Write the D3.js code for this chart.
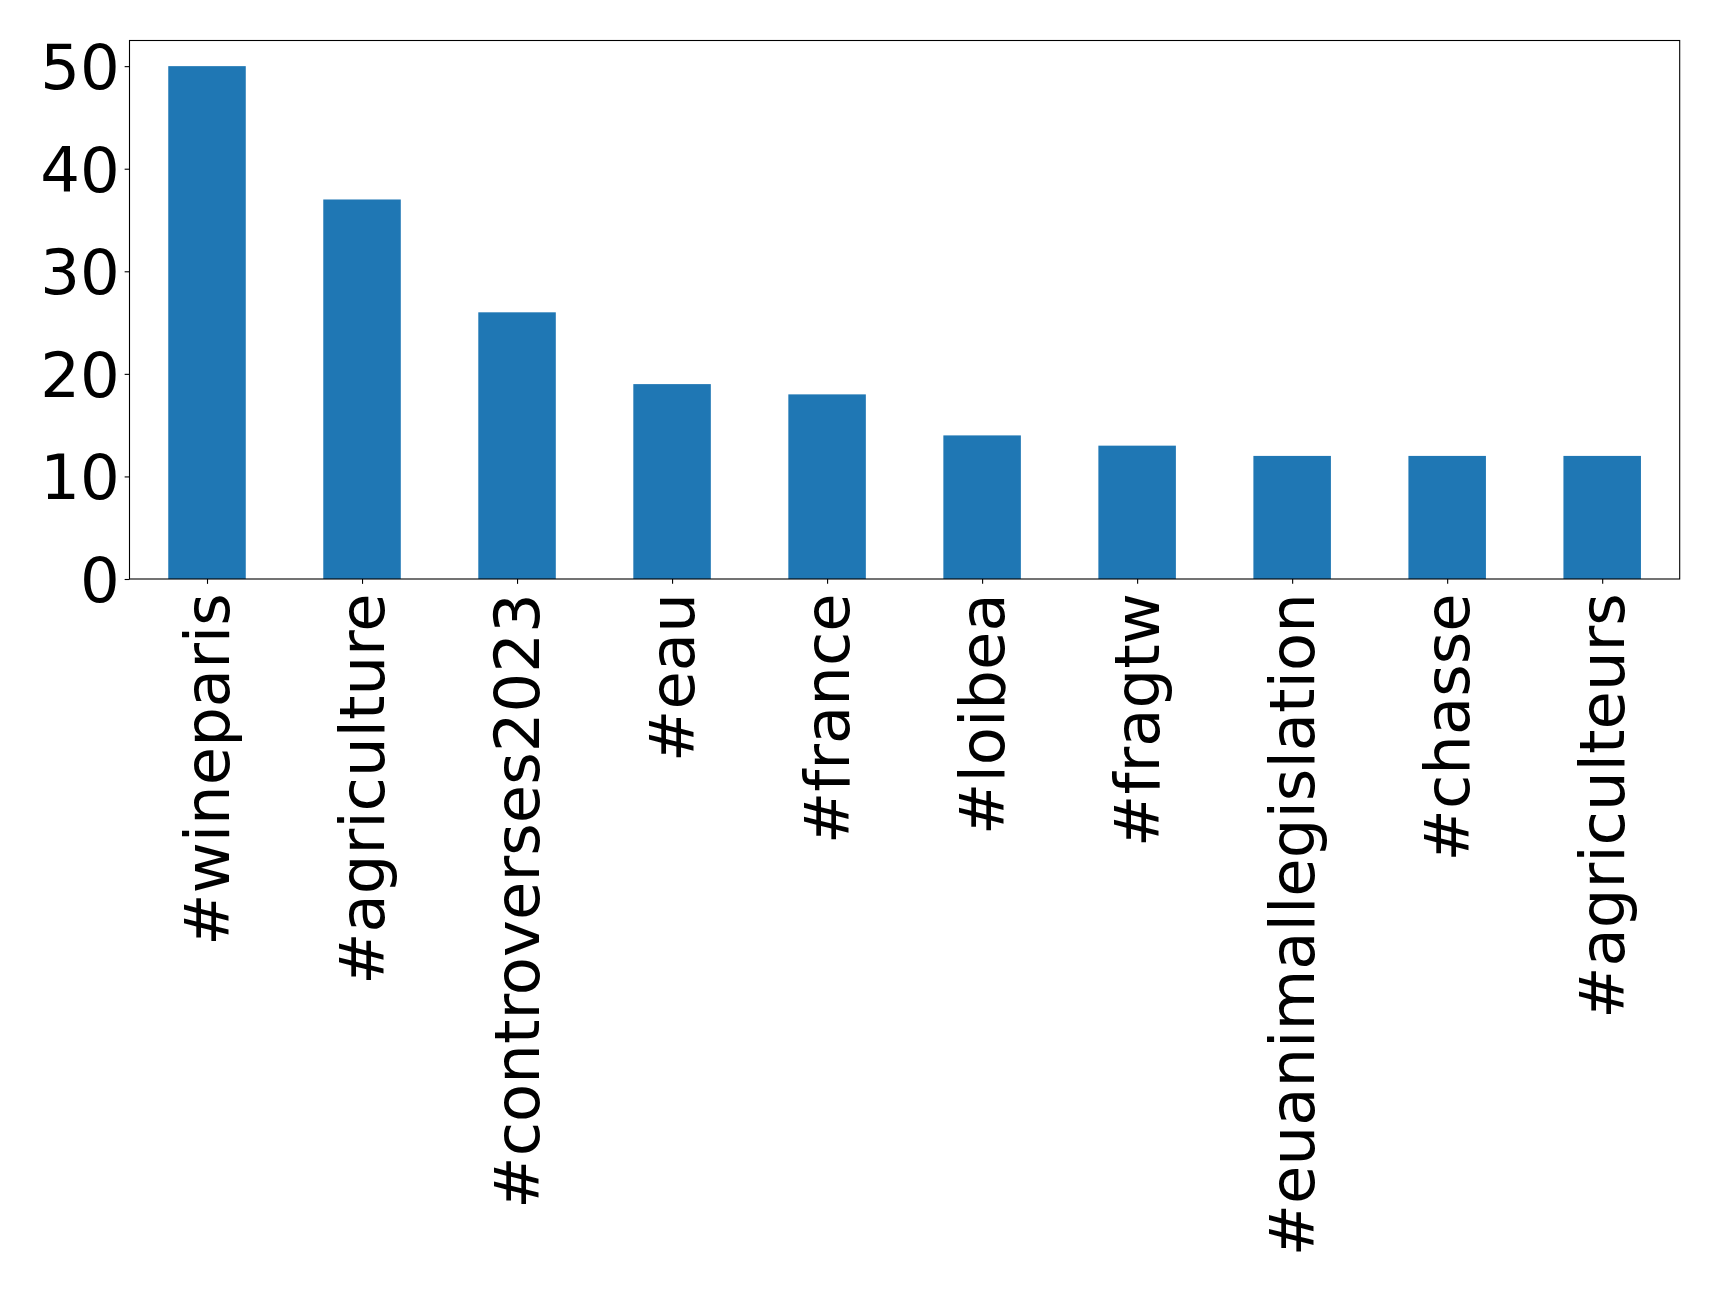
<!DOCTYPE html>
<html>
<head>
<meta charset="utf-8">
<script src="https://cdn.jsdelivr.net/npm/d3@7"></script>
<style>
  html, body { margin: 0; padding: 0; background: #fff; }
  svg { display: block; }
  text { font-family: "DejaVu Sans", sans-serif; fill: #000; }
</style>
</head>
<body>
<svg id="chart" width="1719" height="1291"></svg>
<script>
const categories = ["#wineparis", "#agriculture", "#controverses2023", "#eau", "#france", "#loibea", "#fragtw", "#euanimallegislation", "#chasse", "#agriculteurs"];
const counts = [50, 37, 26, 19, 18, 14, 13, 12, 12, 12];
const yTicks = [0, 10, 20, 30, 40, 50];

const W = 1719, H = 1291;
const margin = { left: 129.5, top: 40.5, right: W - 1679.7, bottom: H - 579 };
const plotW = W - margin.left - margin.right;
const plotH = H - margin.top - margin.bottom;
const fontSize = 62.5;
const tickLen = 4.86, pad = 4.86;

const svg = d3.select("#chart");
const g = svg.append("g").attr("transform", `translate(${margin.left},${margin.top})`);

// matplotlib-style: xlim -0.5..n-0.5, bar width 0.5
const x = d3.scaleLinear().domain([-0.5, categories.length - 0.5]).range([0, plotW]);
const y = d3.scaleLinear().domain([0, 52.5]).range([plotH, 0]);
const barW = x(0.25) - x(-0.25);

g.selectAll("rect.bar").data(counts).join("rect")
  .attr("class", "bar")
  .attr("x", (d, i) => x(i) - barW / 2)
  .attr("y", d => y(d))
  .attr("width", barW)
  .attr("height", d => y(0) - y(d))
  .attr("fill", "#1f77b4");

// Y axis
const yAxis = d3.axisLeft(y).tickValues(yTicks).tickSize(tickLen).tickPadding(pad).tickFormat(d3.format("d"));
const yg = g.append("g").call(yAxis);
yg.select(".domain").remove();
yg.selectAll(".tick line").attr("stroke", "#000").attr("stroke-width", 1.1);
yg.selectAll(".tick text").attr("font-size", fontSize).attr("font-family", "DejaVu Sans").attr("dy", "0.36em");

// X axis
const xAxis = d3.axisBottom(x).tickValues(d3.range(categories.length)).tickSize(tickLen).tickPadding(pad).tickFormat(i => categories[i]);
const xg = g.append("g").attr("transform", `translate(0,${plotH})`).call(xAxis);
xg.select(".domain").remove();
xg.selectAll(".tick line").attr("stroke", "#000").attr("stroke-width", 1.1);
xg.selectAll(".tick text")
  .attr("font-size", fontSize)
  .attr("font-family", "DejaVu Sans")
  .attr("text-anchor", "end")
  .attr("transform", `translate(0,${tickLen + pad + 4.5}) rotate(-90)`)
  .attr("x", 0).attr("y", 0)
  .attr("dy", "0.34em");

// Frame
g.append("rect")
  .attr("x", 0).attr("y", 0)
  .attr("width", plotW).attr("height", plotH)
  .attr("fill", "none").attr("stroke", "#000").attr("stroke-width", 1.1);
</script>
</body>
</html>
